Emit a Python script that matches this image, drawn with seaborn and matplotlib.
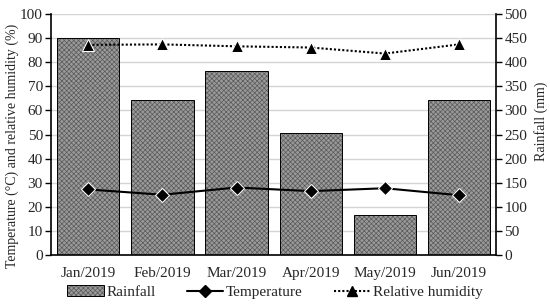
import pandas as pd
import matplotlib.pyplot as plt
import seaborn as sns
from matplotlib.patches import Patch
from matplotlib.lines import Line2D

# monthly climate data
months = ["Jan/2019", "Feb/2019", "Mar/2019", "Apr/2019", "May/2019", "Jun/2019"]
rainfall = [450, 322, 381, 254, 82, 322]
temperature = [27.2, 25.0, 28.0, 26.5, 27.7, 24.8]
humidity = [87.2, 87.4, 86.6, 86.1, 83.6, 87.4]

df = pd.DataFrame({"month": months, "rainfall": rainfall,
                   "temperature": temperature, "humidity": humidity})

sns.set_theme(style="white")
plt.rcParams["font.family"] = ["Liberation Serif", "DejaVu Serif"]
plt.rcParams["hatch.linewidth"] = 0.5

FS = 11
BAR_FACE = "#9a9a9a"
HATCH_COLOR = (0.35, 0.35, 0.35, 1)

fig, ax = plt.subplots(figsize=(5.5, 3.05), dpi=100)
fig.subplots_adjust(left=0.093, right=0.902, top=0.954, bottom=0.164)
ax2 = ax.twinx()

# bars on the rainfall axis (drawn behind the lines)
sns.barplot(data=df, x="month", y="rainfall", ax=ax2, color=BAR_FACE,
            width=0.84, edgecolor="black", linewidth=0.7, hatch="xxxxxxx",
            saturation=1)
for p in ax2.patches:
    p._hatch_color = HATCH_COLOR

sns.lineplot(data=df, x="month", y="temperature", ax=ax, color="black",
             marker="D", markersize=7, linewidth=1.5, sort=False)
sns.lineplot(data=df, x="month", y="humidity", ax=ax, color="black",
             marker="^", markersize=8, linewidth=1.5, linestyle=(0, (1, 1)),
             sort=False)

ax.set_zorder(ax2.get_zorder() + 1)
ax.patch.set_visible(False)

ax.set_ylim(0, 100)
ax.set_yticks(range(0, 101, 10))
ax2.set_ylim(0, 500)
ax2.set_yticks(range(0, 501, 50))
ax.set_xlim(-0.5, 5.5)

ax2.yaxis.grid(True, color="#d4d4d4", linewidth=1)
ax2.set_axisbelow(True)

ax.set_xlabel("")
ax2.set_xlabel("")
ax.set_ylabel("Temperature (°C) and relative humidity (%)", fontsize=10)
ax2.set_ylabel("Rainfall (mm)", fontsize=10)
ax.yaxis.set_label_coords(-0.072, 0.452)
ax2.yaxis.set_label_coords(1.086, 0.556)

for a in (ax, ax2):
    a.tick_params(axis="y", labelsize=FS, length=4, width=1, color="black",
                  direction="out", pad=2)
    a.tick_params(axis="x", labelsize=FS, length=0, pad=9)
    for s in a.spines.values():
        s.set_visible(False)
ax.tick_params(axis="y", left=True)
ax2.tick_params(axis="y", right=True)
for a, side in ((ax, "left"), (ax2, "right"), (ax2, "bottom")):
    a.spines[side].set_visible(True)
    a.spines[side].set_color("black")
    a.spines[side].set_linewidth(1.2)

legend_bar = Patch(facecolor=BAR_FACE, edgecolor="black", hatch="xxxxxxx", linewidth=0.7)
legend_bar._hatch_color = HATCH_COLOR
handles = [
    legend_bar,
    Line2D([], [], color="black", marker="D", markersize=6, linewidth=1.5),
    Line2D([], [], color="black", marker="^", markersize=7, linewidth=1.5,
           linestyle=(0, (1, 1))),
]
labels = ["Rainfall", "Temperature", "Relative humidity"]
fig.legend(handles, labels, loc="lower center", ncol=3, frameon=False,
           fontsize=FS, bbox_to_anchor=(0.5, -0.025), columnspacing=2.0,
           handlelength=2.4, handletextpad=0.2)

fig.savefig("out.png", dpi=100)
